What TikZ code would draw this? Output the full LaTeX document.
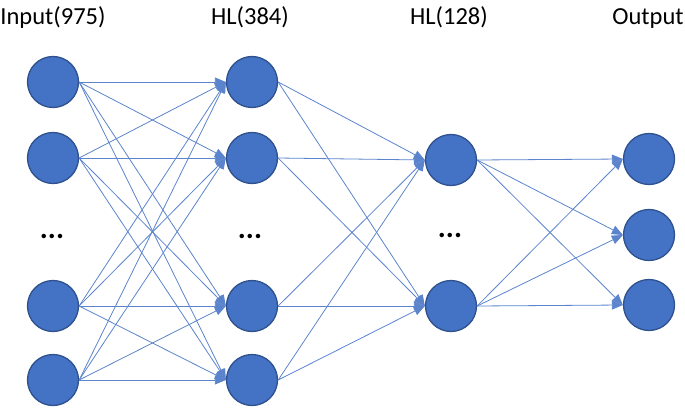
\documentclass[tikz,border=0pt]{standalone}
\usepackage{fontspec}
\setmainfont{Carlito}
\usetikzlibrary{arrows.meta}
\definecolor{nodefill}{HTML}{4472C4}
\definecolor{nodeborder}{HTML}{2F528F}
\definecolor{edgecol}{HTML}{5B84CC}
\begin{document}
\begin{tikzpicture}[x=1pt,y=-1pt,
  neuron/.style={circle,fill=nodefill,draw=nodeborder,line width=1.3pt,minimum size=51pt,inner sep=0pt},
  conn/.style={draw=edgecol,line width=0.8pt,-{Triangle[length=11pt,width=9pt]}},
  title/.style={font=\fontsize{24.5}{27}\selectfont,anchor=base},
  dotsnode/.style={font=\fontsize{30}{32}\selectfont\bfseries,inner sep=0pt}]
\useasboundingbox (0,0) rectangle (685,409);
% labels
\node[title] (t1) at (53,25) {Input(975)};
\node[title] (t2) at (250,25) {HL(384)};
\node[title] (t3) at (449,25) {HL(128)};
\node[title] (t4) at (648,25) {Output};
% input layer
\node[neuron] (i1) at (53,82) {};
\node[neuron] (i2) at (53,158) {};
\node[neuron] (i3) at (53,306) {};
\node[neuron] (i4) at (53,380) {};
% hidden 1
\node[neuron] (h1) at (252,82) {};
\node[neuron] (h2) at (252,158) {};
\node[neuron] (h3) at (252,306) {};
\node[neuron] (h4) at (252,380) {};
% hidden 2
\node[neuron] (g1) at (451,160) {};
\node[neuron] (g2) at (451,306) {};
% output
\node[neuron] (o1) at (649,159) {};
\node[neuron] (o2) at (649,235) {};
\node[neuron] (o3) at (649,305) {};
% dots
\node[dotsnode,anchor=base] (d1) at (52,238) {...};
\node[dotsnode,anchor=base] (d2) at (250,238) {...};
\node[dotsnode,anchor=base] (d3) at (450,237) {...};
% connections
\foreach \a in {i1,i2,i3,i4}{\foreach \b in {h1,h2,h3,h4}{\draw[conn] (\a.east) -- (\b.west);}}
\foreach \a in {h1,h2,h3,h4}{\foreach \b in {g1,g2}{\draw[conn] (\a.east) -- (\b.west);}}
\foreach \a in {g1,g2}{\foreach \b in {o1,o2,o3}{\draw[conn] (\a.east) -- (\b.west);}}
\end{tikzpicture}
\end{document}
